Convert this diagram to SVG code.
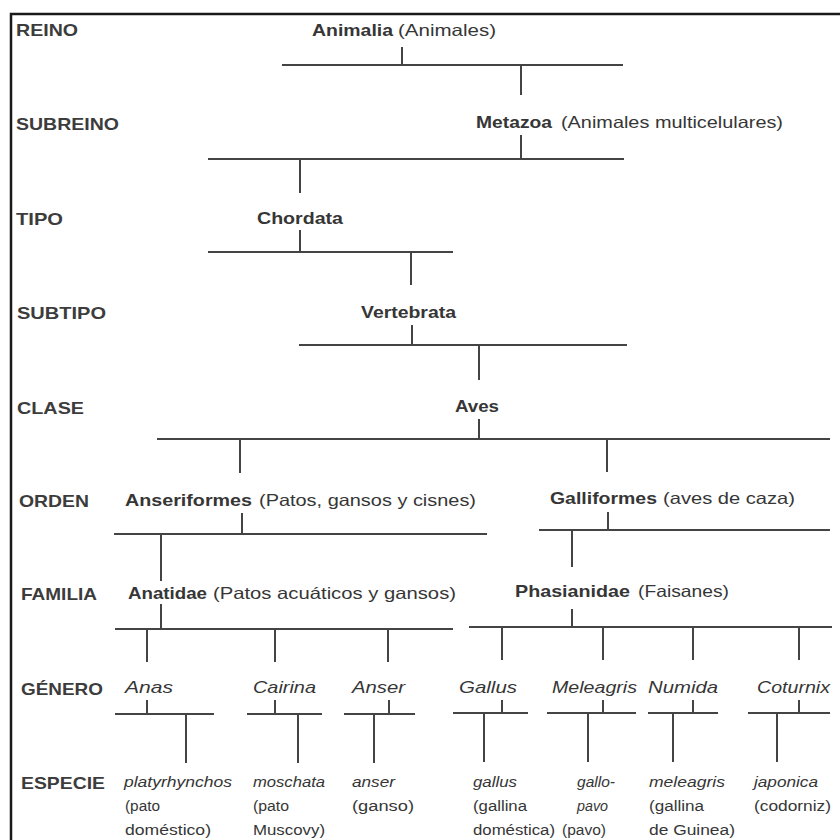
<svg xmlns="http://www.w3.org/2000/svg" width="840" height="840" viewBox="0 0 840 840">
<style>
text{font-family:"Liberation Sans",Arial,Helvetica,sans-serif;fill:#363636}
.lab{font-size:16.5px;font-weight:bold;fill:#3c3c3c}
.b{font-size:16.5px;font-weight:bold}
.r{font-size:16.5px}
.g{font-size:16.5px;font-style:italic}
.s{font-size:14px}
.si{font-size:14px;font-style:italic}
#connectors line{stroke:#444;stroke-width:2}
.frame{stroke:#1a1a1a;stroke-width:2.5;fill:none}
</style>
<rect width="840" height="840" fill="#fff"/>
<path class="frame" d="M11 840V14H840"/>

<g id="rank-labels">
<text class="lab" x="16" y="36" textLength="62" lengthAdjust="spacingAndGlyphs">REINO</text>
<text class="lab" x="16" y="130" textLength="103" lengthAdjust="spacingAndGlyphs">SUBREINO</text>
<text class="lab" x="16" y="225" textLength="47" lengthAdjust="spacingAndGlyphs">TIPO</text>
<text class="lab" x="17" y="319" textLength="89" lengthAdjust="spacingAndGlyphs">SUBTIPO</text>
<text class="lab" x="17" y="414" textLength="67" lengthAdjust="spacingAndGlyphs">CLASE</text>
<text class="lab" x="19" y="507" textLength="70" lengthAdjust="spacingAndGlyphs">ORDEN</text>
<text class="lab" x="21" y="600" textLength="76" lengthAdjust="spacingAndGlyphs">FAMILIA</text>
<text class="lab" x="21" y="695" textLength="82" lengthAdjust="spacingAndGlyphs">GÉNERO</text>
<text class="lab" x="21" y="789" textLength="84" lengthAdjust="spacingAndGlyphs">ESPECIE</text>
</g>

<g id="animalia"><text class="b" x="312" y="36" textLength="81" lengthAdjust="spacingAndGlyphs">Animalia</text><text class="r" x="398" y="36" textLength="98" lengthAdjust="spacingAndGlyphs">(Animales)</text></g>
<g id="metazoa"><text class="b" x="476" y="128" textLength="76" lengthAdjust="spacingAndGlyphs">Metazoa</text><text class="r" x="561" y="128" textLength="222" lengthAdjust="spacingAndGlyphs">(Animales multicelulares)</text></g>
<g id="chordata"><text class="b" x="257" y="224" textLength="86" lengthAdjust="spacingAndGlyphs">Chordata</text></g>
<g id="vertebrata"><text class="b" x="361" y="318" textLength="95" lengthAdjust="spacingAndGlyphs">Vertebrata</text></g>
<g id="aves"><text class="b" x="455" y="412" textLength="44" lengthAdjust="spacingAndGlyphs">Aves</text></g>
<g id="anseriformes"><text class="b" x="125" y="506" textLength="127" lengthAdjust="spacingAndGlyphs">Anseriformes</text><text class="r" x="259" y="506" textLength="217" lengthAdjust="spacingAndGlyphs">(Patos, gansos y cisnes)</text></g>
<g id="galliformes"><text class="b" x="550" y="504" textLength="107" lengthAdjust="spacingAndGlyphs">Galliformes</text><text class="r" x="663" y="504" textLength="132" lengthAdjust="spacingAndGlyphs">(aves de caza)</text></g>
<g id="anatidae"><text class="b" x="128" y="599" textLength="79" lengthAdjust="spacingAndGlyphs">Anatidae</text><text class="r" x="213" y="599" textLength="243" lengthAdjust="spacingAndGlyphs">(Patos acuáticos y gansos)</text></g>
<g id="phasianidae"><text class="b" x="515" y="597" textLength="115" lengthAdjust="spacingAndGlyphs">Phasianidae</text><text class="r" x="638" y="597" textLength="91" lengthAdjust="spacingAndGlyphs">(Faisanes)</text></g>

<g id="anas"><text class="g" x="125" y="693" textLength="48" lengthAdjust="spacingAndGlyphs">Anas</text></g>
<g id="cairina"><text class="g" x="253" y="693" textLength="63" lengthAdjust="spacingAndGlyphs">Cairina</text></g>
<g id="anser"><text class="g" x="352" y="693" textLength="53" lengthAdjust="spacingAndGlyphs">Anser</text></g>
<g id="gallus"><text class="g" x="459" y="693" textLength="58" lengthAdjust="spacingAndGlyphs">Gallus</text></g>
<g id="meleagris"><text class="g" x="552" y="693" textLength="85" lengthAdjust="spacingAndGlyphs">Meleagris</text></g>
<g id="numida"><text class="g" x="648" y="693" textLength="70" lengthAdjust="spacingAndGlyphs">Numida</text></g>
<g id="coturnix"><text class="g" x="757" y="693" textLength="73" lengthAdjust="spacingAndGlyphs">Coturnix</text></g>

<g id="sp-platyrhynchos">
<text class="si" x="124" y="787" textLength="108" lengthAdjust="spacingAndGlyphs">platyrhynchos</text>
<text class="s" x="125" y="811" textLength="35" lengthAdjust="spacingAndGlyphs">(pato</text>
<text class="s" x="125" y="835" textLength="86" lengthAdjust="spacingAndGlyphs">doméstico)</text>
</g>
<g id="sp-moschata">
<text class="si" x="253" y="787" textLength="72" lengthAdjust="spacingAndGlyphs">moschata</text>
<text class="s" x="253" y="811" textLength="36" lengthAdjust="spacingAndGlyphs">(pato</text>
<text class="s" x="253" y="835" textLength="72" lengthAdjust="spacingAndGlyphs">Muscovy)</text>
</g>
<g id="sp-anser">
<text class="si" x="352" y="787" textLength="43" lengthAdjust="spacingAndGlyphs">anser</text>
<text class="s" x="352" y="811" textLength="62" lengthAdjust="spacingAndGlyphs">(ganso)</text>
</g>
<g id="sp-gallus">
<text class="si" x="473" y="787" textLength="44" lengthAdjust="spacingAndGlyphs">gallus</text>
<text class="s" x="473" y="811" textLength="54" lengthAdjust="spacingAndGlyphs">(gallina</text>
<text class="s" x="473" y="835" textLength="82" lengthAdjust="spacingAndGlyphs">doméstica)</text>
</g>
<g id="sp-gallopavo">
<text class="si" x="577" y="787" textLength="38" lengthAdjust="spacingAndGlyphs">gallo-</text>
<text class="si" x="577" y="811" textLength="31" lengthAdjust="spacingAndGlyphs">pavo</text>
<text class="s" x="562" y="835" textLength="44" lengthAdjust="spacingAndGlyphs">(pavo)</text>
</g>
<g id="sp-meleagris">
<text class="si" x="649" y="787" textLength="76" lengthAdjust="spacingAndGlyphs">meleagris</text>
<text class="s" x="649" y="811" textLength="55" lengthAdjust="spacingAndGlyphs">(gallina</text>
<text class="s" x="649" y="835" textLength="86" lengthAdjust="spacingAndGlyphs">de Guinea)</text>
</g>
<g id="sp-japonica">
<text class="si" x="754" y="787" textLength="64" lengthAdjust="spacingAndGlyphs">japonica</text>
<text class="s" x="754" y="811" textLength="77" lengthAdjust="spacingAndGlyphs">(codorniz)</text>
</g>

<g id="connectors">
<line x1="402" y1="47" x2="402" y2="65"/><line x1="282" y1="65" x2="623" y2="65"/><line x1="521" y1="65" x2="521" y2="95"/>
<line x1="521" y1="135" x2="521" y2="159"/><line x1="208" y1="159" x2="624" y2="159"/><line x1="300" y1="159" x2="300" y2="193"/>
<line x1="300" y1="230" x2="300" y2="252"/><line x1="208" y1="252" x2="453" y2="252"/><line x1="411" y1="252" x2="411" y2="285"/>
<line x1="412" y1="325" x2="412" y2="345"/><line x1="299" y1="345" x2="627" y2="345"/><line x1="479" y1="345" x2="479" y2="380"/>
<line x1="479" y1="419" x2="479" y2="439"/><line x1="157" y1="439" x2="830" y2="439"/><line x1="240" y1="439" x2="240" y2="473"/><line x1="607" y1="439" x2="607" y2="472"/>
<line x1="242" y1="513" x2="242" y2="534"/><line x1="114" y1="534" x2="487" y2="534"/><line x1="161" y1="534" x2="161" y2="581"/>
<line x1="608" y1="512" x2="608" y2="530"/><line x1="539" y1="530" x2="830" y2="530"/><line x1="572" y1="530" x2="572" y2="567"/>
<line x1="161" y1="604" x2="161" y2="629"/><line x1="115" y1="629" x2="453" y2="629"/>
<line x1="147" y1="629" x2="147" y2="662"/><line x1="275" y1="629" x2="275" y2="662"/><line x1="388" y1="629" x2="388" y2="662"/>
<line x1="572" y1="609" x2="572" y2="627"/><line x1="469" y1="627" x2="832" y2="627"/>
<line x1="502" y1="627" x2="502" y2="660"/><line x1="603" y1="627" x2="603" y2="660"/><line x1="693" y1="627" x2="693" y2="660"/><line x1="799" y1="627" x2="799" y2="660"/>
<line x1="115" y1="714" x2="214" y2="714"/><line x1="147" y1="700" x2="147" y2="714"/><line x1="186" y1="714" x2="186" y2="763"/>
<line x1="247" y1="714" x2="322" y2="714"/><line x1="275" y1="700" x2="275" y2="714"/><line x1="298" y1="714" x2="298" y2="763"/>
<line x1="344" y1="714" x2="415" y2="714"/><line x1="389" y1="700" x2="389" y2="714"/><line x1="374" y1="714" x2="374" y2="763"/>
<line x1="453" y1="713" x2="528" y2="713"/><line x1="502" y1="700" x2="502" y2="713"/><line x1="484" y1="713" x2="484" y2="762"/>
<line x1="547" y1="713" x2="636" y2="713"/><line x1="603" y1="700" x2="603" y2="713"/><line x1="588" y1="713" x2="588" y2="762"/>
<line x1="648" y1="713" x2="718" y2="713"/><line x1="693" y1="700" x2="693" y2="713"/><line x1="673" y1="713" x2="673" y2="762"/>
<line x1="748" y1="713" x2="830" y2="713"/><line x1="799" y1="700" x2="799" y2="713"/><line x1="777" y1="713" x2="777" y2="762"/>
</g>
</svg>
